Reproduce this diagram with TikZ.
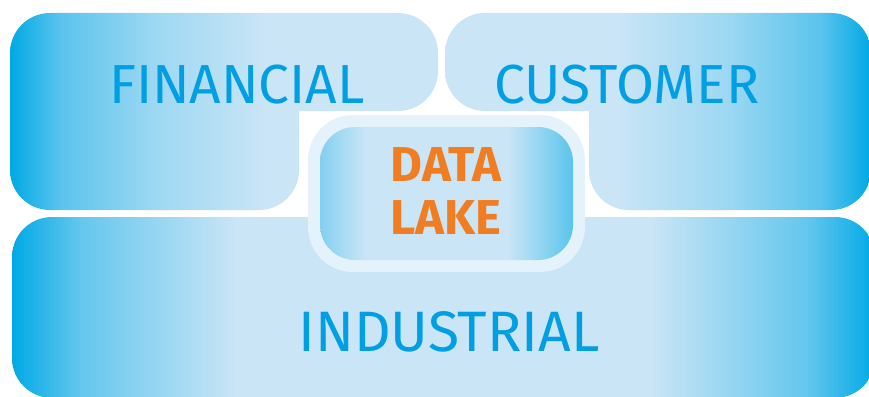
\documentclass[tikz,border=0pt]{standalone}
\usepackage{xcolor}
\usepackage{fontspec}
\usepackage{tikz}

\newfontfamily\blockfont{Fira Sans}

\definecolor{lakedark}{HTML}{00A9E5}
\definecolor{lakemid}{HTML}{8DCBEF}
\definecolor{lakelight}{HTML}{CAE5F6}
\definecolor{lakeframe}{HTML}{E3F2FB}
\definecolor{blocktextblue}{HTML}{009FE3}
\definecolor{laketextorange}{HTML}{F07D22}

% side shading: dark edge on the left, light towards the middle
\pgfdeclarehorizontalshading{sideshade}{100bp}{color(0bp)=(lakedark); color(25bp)=(lakedark); color(31bp)=(lakedark!55!lakelight); color(42bp)=(lakedark!22!lakelight); color(55bp)=(lakelight); color(100bp)=(lakelight)}
% both edges dark
\pgfdeclarehorizontalshading{bothshade}{100bp}{color(0bp)=(lakedark); color(25bp)=(lakedark); color(29bp)=(lakedark!50!lakelight); color(38bp)=(lakelight); color(62bp)=(lakelight); color(71bp)=(lakedark!50!lakelight); color(75bp)=(lakedark); color(100bp)=(lakedark)}
% centre of the lake, a little darker on the right
\pgfdeclarehorizontalshading{lakeshade}{100bp}{color(0bp)=(lakedark!35!lakelight); color(25bp)=(lakedark!35!lakelight); color(34bp)=(lakelight); color(62bp)=(lakelight); color(75bp)=(lakedark!55!lakelight); color(100bp)=(lakedark!55!lakelight)}

\begin{document}
\begin{tikzpicture}[x=1pt, y=-1pt,
    block/.style={rounded corners=40pt},
    blocktext/.style={text=blocktextblue, inner sep=0pt, anchor=base, font=\blockfont\fontsize{55}{60}\selectfont}]
        \useasboundingbox (0,0) rectangle (869,396);

        % Financial block
        \shade[block, shading=sideshade] (10,13) rectangle (438,111) (10,13) rectangle (299,210);
        \node[blocktext] (fin) at (237,103) {FINANCIAL};

        % Customer block
        \shade[block, shading=sideshade, shading angle=180] (445,13) rectangle (871,111) (589,13) rectangle (871,210);
        \node[blocktext] (cust) at (627,103) {CUSTOMER};

        % Industrial block
        \shade[block, shading=bothshade] (12,217) rectangle (875,398);
        \node[blocktext, font=\blockfont\fontsize{57}{62}\selectfont] (ind) at (449,351) {INDUSTRIAL};

        % Data lake in the middle
        \fill[lakeframe, rounded corners=45pt] (308,115) rectangle (585,272);
        \shade[shading=lakeshade, rounded corners=35pt] (320,127) rectangle (573,260);
        \node[inner sep=0pt, align=center, text=laketextorange, font=\blockfont\bfseries\fontsize{49}{53}\selectfont] (lake) at (446,191.5) {DATA\\LAKE};
    \end{tikzpicture}
\end{document}
